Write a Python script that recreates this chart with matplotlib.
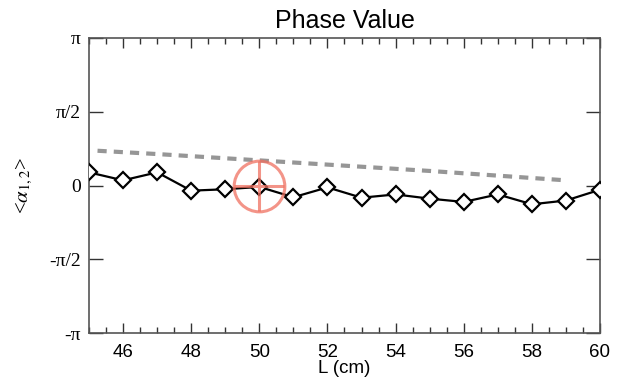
import numpy as np
import matplotlib
matplotlib.use('Agg')
import matplotlib.pyplot as plt
from matplotlib.ticker import MultipleLocator

# measured phase, one point per cm
L_cm = [45, 46, 47, 48, 49, 50, 51, 52, 53, 54, 55, 56, 57, 58, 59, 60]
phase = [0.28, 0.11, 0.28, -0.11, -0.08, -0.03, -0.25, -0.04, -0.26, -0.19,
         -0.28, -0.35, -0.19, -0.40, -0.32, -0.09]

# grey dashed reference curve
ref_L = [45.25, 47, 49, 51, 53, 55, 57, 59]
ref_phase = [0.74, 0.67, 0.58, 0.49, 0.40, 0.31, 0.21, 0.11]

# highlighted point
target_L = 50
target_phase = -0.02

yticks = [-np.pi, -np.pi / 2, 0, np.pi / 2, np.pi]
ytick_labels = ['-π', '-π/2', '0', 'π/2', 'π']

plt.rcParams['font.family'] = ['Liberation Sans', 'DejaVu Sans']
plt.rcParams['mathtext.fontset'] = 'stix'

fig = plt.figure(figsize=(6.18, 3.87), dpi=100)
ax = fig.add_axes([89 / 618, 1 - 333 / 387, 511 / 618, 295 / 387])

ax.plot(ref_L, ref_phase, color='#969696', lw=3, dashes=(2.2, 1.7), zorder=2)
ax.plot(L_cm, phase, color='black', lw=1.6, marker='D', ms=8,
        mfc='white', mec='black', mew=1.6, zorder=3)

# target marker drawn on top with some transparency
tc = '#f07060'
ax.plot(target_L, target_phase, marker='o', ms=36.5, mfc='none', mec=tc,
        mew=2.2, alpha=0.75, zorder=4)
ax.plot(target_L, target_phase, marker='+', ms=36.5, mec=tc,
        mew=2.2, alpha=0.75, zorder=4)

ax.set_xlim(45, 60)
ax.set_ylim(-np.pi, np.pi)
ax.xaxis.set_major_locator(MultipleLocator(2))
ax.xaxis.set_minor_locator(MultipleLocator(0.5))
ax.set_yticks(yticks)
ax.set_yticklabels(ytick_labels, family='Liberation Serif', fontsize=14)

ax.tick_params(axis='both', which='major', direction='in', length=7,
               width=1, color='#333333', top=True, right=True)
ax.tick_params(axis='y', which='major', length=10)
ax.tick_params(axis='x', which='minor', direction='in', length=4,
               width=1, color='#333333', top=True)
ax.tick_params(axis='x', labelsize=13.5, pad=8)
ax.tick_params(axis='y', pad=6)
for s in ax.spines.values():
    s.set_color('#555555')
    s.set_linewidth(1.2)

ax.set_title('Phase Value', fontsize=18, pad=7)
ax.set_xlabel('L (cm)', fontsize=13.5, labelpad=-1)
ax.set_ylabel(r'<$\alpha_{1,2}$>', fontsize=15, family='Liberation Serif',
              labelpad=10)

fig.savefig('out.png', dpi=100)
